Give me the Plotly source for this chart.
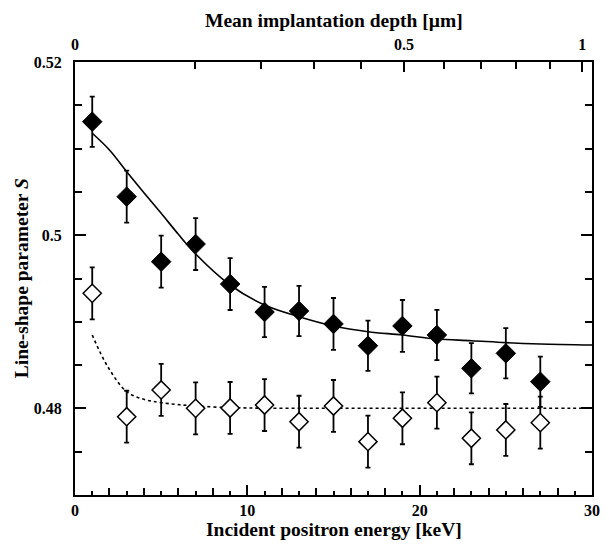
import plotly.graph_objects as go

# ---------------- data ----------------
energy = [1, 3, 5, 7, 9, 11, 13, 15, 17, 19, 21, 23, 25, 27]
s_filled = [0.51311, 0.50445, 0.49694, 0.49898, 0.49436, 0.49113, 0.49125,
            0.48975, 0.48724, 0.48952, 0.48848, 0.48463, 0.48636, 0.48308]
err_filled = [0.0029, 0.0030, 0.0030, 0.0030, 0.0030, 0.0029, 0.0029,
              0.0030, 0.0029, 0.0030, 0.0029, 0.0029, 0.0029, 0.0029]
s_open = [0.49329, 0.47904, 0.48213, 0.48001, 0.48005, 0.48039, 0.47846,
          0.48028, 0.47616, 0.47886, 0.48066, 0.47655, 0.47751, 0.47835]
err_open = [0.0030, 0.0030, 0.0030, 0.0030, 0.0030, 0.0030, 0.0030,
            0.0030, 0.0030, 0.0030, 0.0030, 0.0030, 0.0030, 0.0030]

fit_energy = [1.0, 2.0, 3.0, 4.0, 5.0, 6.0, 7.0, 9.0, 11.0, 13.0, 15.0, 17.0,
              19.0, 21.0, 23.0, 25.0, 27.0, 30.0]
fit_s = [0.51177, 0.50984, 0.50733, 0.50490, 0.50253, 0.50010, 0.49783, 0.49425,
         0.49194, 0.49059, 0.48952, 0.48886, 0.48848, 0.48801, 0.48782, 0.48759,
         0.48744, 0.48732]

dot_energy = [1.0, 1.9, 3.0, 4.0, 5.0, 7.0, 10.0, 15.0, 20.0, 25.0, 30.0]
dot_s = [0.48848, 0.48482, 0.48193, 0.48105, 0.48066, 0.48028, 0.48005,
         0.48002, 0.48001, 0.48001, 0.48001]

x_range = [0, 30]
y_range = [0.47, 0.52]
y_major = [0.48, 0.50, 0.52]
y_major_text = ["0.48", "0.5", "0.52"]

depth_major = [0.0, 0.5, 1.0]
depth_major_text = ["0", "0.5", "1"]
depth_minor = [0.1, 0.2, 0.3, 0.4, 0.6, 0.7, 0.8, 0.9]
density = 8.96  # g/cm^3 (Cu), Makhov profile z = 40/rho * E^1.6 nm


def depth_to_energy(z_um):
    return (z_um * 1000.0 * density / 40.0) ** (1 / 1.6)


FONT = "Liberation Serif"
BLACK = "black"

fig = go.Figure()

fig.add_trace(go.Scatter(x=fit_energy, y=fit_s, mode="lines", line_shape="spline",
                         line=dict(color=BLACK, width=1.6), showlegend=False,
                         hoverinfo="skip"))
fig.add_trace(go.Scatter(x=dot_energy, y=dot_s, mode="lines", line_shape="spline",
                         line=dict(color=BLACK, width=1.6, dash="dot"),
                         showlegend=False, hoverinfo="skip"))
fig.add_trace(go.Scatter(x=energy, y=s_filled, mode="markers",
                         marker=dict(symbol="diamond", size=15, color=BLACK,
                                     line=dict(color=BLACK, width=1)),
                         error_y=dict(type="data", array=err_filled, color=BLACK,
                                      thickness=1.8, width=2.5),
                         showlegend=False))
fig.add_trace(go.Scatter(x=energy, y=s_open, mode="markers",
                         marker=dict(symbol="diamond", size=14, color="white",
                                     line=dict(color=BLACK, width=1.5)),
                         error_y=dict(type="data", array=err_open, color=BLACK,
                                      thickness=1.8, width=2.5),
                         showlegend=False))
# invisible helpers so the extra axes render
fig.add_trace(go.Scatter(x=x_range, y=[None, None], xaxis="x2", yaxis="y",
                         mode="lines", showlegend=False, hoverinfo="skip"))
fig.add_trace(go.Scatter(x=x_range, y=[None, None], xaxis="x3", yaxis="y",
                         mode="lines", showlegend=False, hoverinfo="skip"))

tickfont = dict(family=FONT, size=16, color=BLACK, weight="bold")
titlefont = dict(family=FONT, size=19.5, color=BLACK, weight="bold")

# page body has an 8px margin, so the figure is sized/offset to compensate
fig.update_layout(
    width=601, height=536,
    margin=dict(l=67, r=9, t=54, b=49),
    paper_bgcolor="white", plot_bgcolor="white",
    font=dict(family=FONT, color=BLACK),
    xaxis=dict(range=x_range, showgrid=False, zeroline=False,
               showline=True, linewidth=2, linecolor=BLACK, mirror=False,
               ticks="inside", ticklen=10, tickwidth=1.6, tickcolor=BLACK,
               tickmode="linear", tick0=0, dtick=10,
               minor=dict(ticks="inside", ticklen=7, tickwidth=1.6,
                          tickcolor=BLACK, dtick=2, tick0=0, showgrid=False),
               tickfont=tickfont, ticklabelstandoff=0),
    xaxis3=dict(range=x_range, overlaying="x", anchor="y", side="bottom",
                showgrid=False, zeroline=False, showline=False,
                ticks="inside", ticklen=4, tickwidth=1.6, tickcolor=BLACK,
                tickmode="linear", tick0=1, dtick=2, showticklabels=False),
    xaxis2=dict(range=x_range, overlaying="x", anchor="y", side="top",
                showgrid=False, zeroline=False,
                showline=True, linewidth=2, linecolor=BLACK,
                ticks="inside", ticklen=10, tickwidth=1.6, tickcolor=BLACK,
                tickmode="array",
                tickvals=[depth_to_energy(z) for z in depth_major],
                ticktext=depth_major_text,
                minor=dict(ticks="inside", ticklen=7, tickwidth=1.6,
                           tickcolor=BLACK, tickmode="array",
                           tickvals=[depth_to_energy(z) for z in depth_minor],
                           showgrid=False),
                tickfont=tickfont, ticklabelstandoff=4),
    yaxis=dict(range=y_range, showgrid=False, zeroline=False,
               showline=True, linewidth=2, linecolor=BLACK, mirror="ticks",
               ticks="inside", ticklen=11, tickwidth=1.6, tickcolor=BLACK,
               tickmode="array", tickvals=y_major, ticktext=y_major_text,
               minor=dict(ticks="inside", ticklen=7, tickwidth=1.6,
                          tickcolor=BLACK, dtick=0.005, tick0=0.47,
                          showgrid=False),
               tickfont=tickfont, ticklabelstandoff=8),
    annotations=[
        dict(text="Mean implantation depth [µm]", xref="paper", yref="paper",
             x=0.5, y=1.095, xanchor="center", yanchor="middle", showarrow=False,
             font=titlefont),
        dict(text="Incident positron energy [keV]", xref="paper", yref="paper",
             x=0.5, y=-0.079, xanchor="center", yanchor="middle", showarrow=False,
             font=titlefont),
        dict(text="Line-shape parameter <i>S</i>", xref="paper", yref="paper",
             x=-0.103, y=0.5, xanchor="center", yanchor="middle", textangle=-90,
             showarrow=False, font=titlefont),
    ],
)

fig.write_html("out.html")
